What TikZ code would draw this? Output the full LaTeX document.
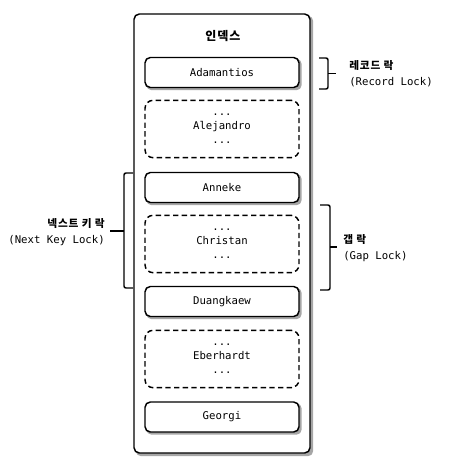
\documentclass[tikz,border=0pt]{standalone}
\usepackage{fontspec}
\setmonofont{DejaVu Sans Mono}
\newfontfamily\kofont[LetterSpace=8]{Noto Sans CJK KR}
\usetikzlibrary{positioning,backgrounds}
\pgfdeclarelayer{box}
\pgfsetlayers{background,box,main}

\begin{document}
\begin{tikzpicture}
[x=0.75pt,y=-0.75pt,
 outer/.style={draw,line width=1.1pt,rounded corners=4pt,fill=white,
   minimum width=132pt,minimum height=329.25pt},
 rec/.style={draw,line width=1.1pt,rounded corners=4pt,fill=white,
   minimum width=115.5pt,minimum height=22.5pt,
   font=\ttfamily\fontsize{8}{10.5}\selectfont},
 gap/.style={draw,line width=1.1pt,dash pattern=on 4pt off 2.5pt,rounded corners=6pt,
   minimum width=115.5pt,minimum height=43pt,align=center,
   font=\ttfamily\fontsize{8}{10.5}\selectfont},
 shad/.style={fill=black!35,rounded corners=4pt},
 brk/.style={line width=1.1pt,rounded corners=1.5pt},
 lbl/.style={font=\ttfamily\fontsize{8}{12}\selectfont,inner sep=0pt}]
\useasboundingbox (0,0) rectangle (455,465);
% index box
\begin{pgfonlayer}{box}
\node[outer] (idx) at (222,233.5) {};
\end{pgfonlayer}
\node[font=\kofont\bfseries\fontsize{9}{10}\selectfont] (title) at (223,36) {인덱스};
% records and gaps
\node[rec] (adam) at (222,72.5) {Adamantios};
\node[gap] (alej) at (222,129) {...\\Alejandro\\...};
\node[rec] (anne) at (222,187.5) {Anneke};
\node[gap] (chri) at (222,244) {...\\Christan\\...};
\node[rec] (duan) at (222,301.5) {Duangkaew};
\node[gap] (eber) at (222,359) {...\\Eberhardt\\...};
\node[rec] (geor) at (222,417) {Georgi};
% shadows
\begin{pgfonlayer}{background}
\fill[shad] ([shift={(2.5,2.5)}]idx.north west) rectangle ([shift={(2.5,2.5)}]idx.south east);
\end{pgfonlayer}
\begin{pgfonlayer}{box}
\foreach \n in {adam,anne,duan,geor}
	\fill[shad] ([shift={(2,2)}]\n.north west) rectangle ([shift={(2,2)}]\n.south east);
\end{pgfonlayer}
% record lock
\draw[brk] (319,58) -- (328,58) -- (328,89) -- (319,89);
\draw[line width=1.1pt] (328,73.5) -- (336,73.5);
\node[lbl,anchor=west,align=left] (reclk) at (349,73.5)
	{{\kofont\bfseries 레코드 락}\\(Record Lock)};
% gap lock
\draw[brk] (320,205) -- (330,205) -- (330,290) -- (320,290);
\draw[line width=1.1pt] (330,247) -- (337,247);
\node[lbl,anchor=west,align=left] (gaplk) at (343,248)
	{{\kofont\bfseries 갭 락}\\(Gap Lock)};
% next key lock
\draw[brk] (133,173) -- (124,173) -- (124,288) -- (133,288);
\draw[line width=1.1pt] (124,231) -- (110,231);
\node[lbl,anchor=east,align=right] (nextlk) at (105,232)
	{{\kofont\bfseries 넥스트 키 락}\\(Next Key Lock)};
\end{tikzpicture}
\end{document}
